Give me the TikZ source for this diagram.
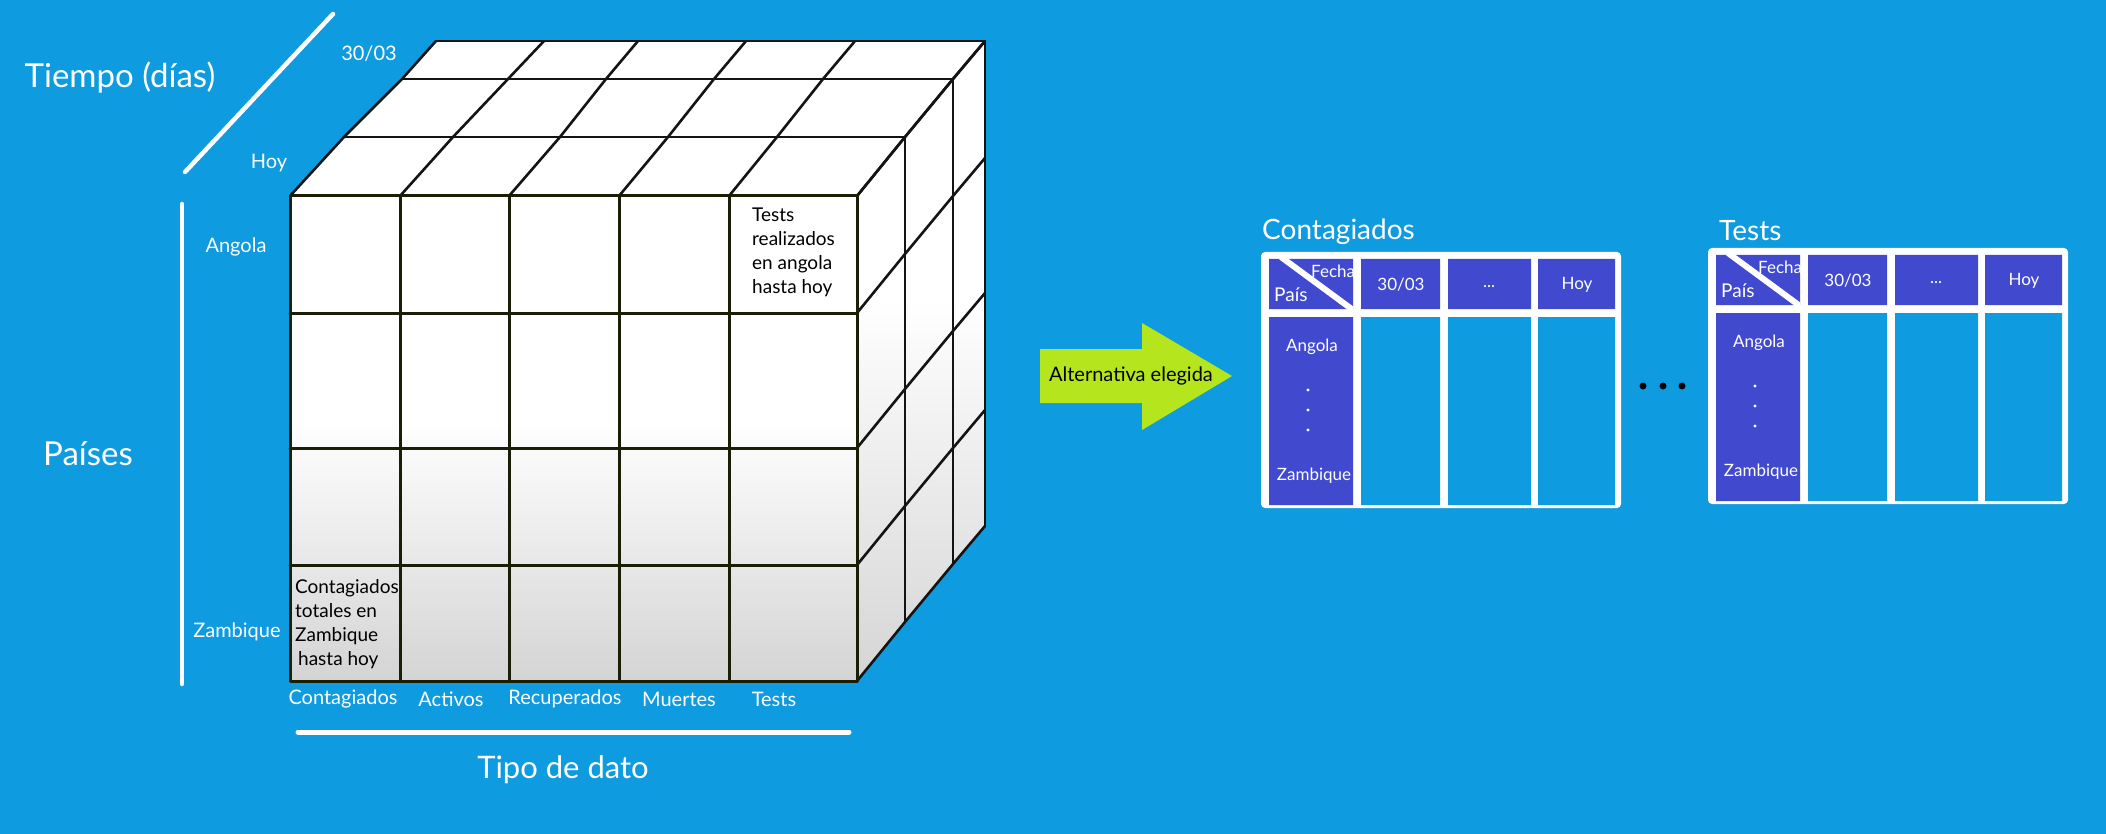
\documentclass[tikz,border=0pt]{standalone}
\usepackage{fontspec}
\setmainfont{Lato}
\definecolor{bgblue}{RGB}{14,155,224}
\definecolor{cellpurple}{RGB}{65,73,206}
\definecolor{arrowgreen}{RGB}{181,230,29}
\definecolor{gridline}{RGB}{26,30,6}
\definecolor{shadegray}{RGB}{212,212,212}
\newcommand\datatable[3]{%
\begin{scope}[shift={(#2,#3)}]
 \fill[white,rounded corners=4pt] (0,0) rectangle (360,256);
 \fill[cellpurple] (8,7) rectangle (92,57) (100,7) rectangle (179,57) (187,7) rectangle (270,57) (277,7) rectangle (354,57) (8,65) rectangle (92,253);
 \fill[bgblue] (100,65) rectangle (179,253) (187,65) rectangle (270,253) (277,65) rectangle (354,253);
 \begin{scope}
  \clip (8,7) rectangle (92,57);
  \draw[white, line width=6pt] (20,5) -- (92,58);
  \node[hdr, anchor=west] (#1fecha) at (50,19) {Fecha};
 \end{scope}
 \node[hdr, anchor=west, font=\fontsize{19}{22}\selectfont] (#1pais) at (13,43) {País};
 \node[hdr] (#1da) at (140,33) {30/03};
 \node[hdr] (#1db) at (228,35) {...};
 \node[hdr] (#1dc) at (316,33) {Hoy};
 \node[hdr] (#1ang) at (51,95) {Angola};
 \foreach \yy in {138,158,178} \fill[white] (47,\yy) circle (1.6);
 \node[hdr] (#1zam) at (53,224) {Zambique};
\end{scope}}
\begin{document}
\begin{tikzpicture}[x=1pt,y=-1pt,
  wlabel/.style={text=white, inner sep=0pt, font=\fontsize{20}{24}\selectfont},
  axistitle/.style={text=white, inner sep=0pt, font=\fontsize{33}{40}\selectfont},
  hdr/.style={text=white, inner sep=0pt, font=\fontsize{17}{20}\selectfont},
  celltext/.style={text=black, inner sep=0pt, align=left, font=\fontsize{19}{24}\selectfont},
  axisline/.style={white, line width=4.5pt, line cap=round},
  topline/.style={black!92, line width=2.6pt, line cap=round, line join=round},
  frontline/.style={gridline, line width=3pt, line cap=round},
]
\fill[bgblue] (0,0) rectangle (2106,834);
\useasboundingbox (0,0) rectangle (2106,834);

% ---------- cube faces ----------
\fill[white] (290,196) -- (436,41) -- (985,41) -- (857,196) -- cycle;
\begin{scope}
 \clip (857,196) -- (985,41) -- (985,526) -- (857,681) -- cycle;
 \fill[white] (850,30) rectangle (990,300);
 \shade[top color=white, bottom color=shadegray] (850,300) rectangle (990,690);
\end{scope}
\fill[white] (290,196) rectangle (857,420);
\shade[top color=white, bottom color=shadegray] (290,420) rectangle (857,681);

% top face lines
\draw[topline] (290,196) -- (857,196);
\draw[topline] (344,137) -- (905,137);
\draw[topline] (402,79) -- (953,79);
\draw[topline] (436,41) -- (985,41);
\foreach \a/\b/\c/\d in {290/344/402/436, 400/453/508/544, 509/560/606/638, 619/668/714/746, 729/777/823/855, 857/905/953/985}
  \draw[topline] (\a,196) -- (\b,137) -- (\c,79) -- (\d,41);
% right face lines
\foreach \xx/\dd in {905/59, 953/117, 985/155}
  \draw[topline] ({\xx},{196-\dd}) -- ({\xx},{681-\dd});
\foreach \yy in {196,313,448,565,681}
  \draw[topline] (857,\yy) -- ({905},{\yy-59}) -- ({953},{\yy-117}) -- ({985},{\yy-155});
% front face grid
\foreach \xx in {400,509,619,729}
  \draw[frontline] (\xx,196) -- (\xx,681);
\foreach \yy in {313,448,565}
  \draw[frontline] (290,\yy) -- (857,\yy);
\draw[frontline, line join=round] (290,196) rectangle (857,681);

% cell texts
\node[celltext, anchor=north west] (celltests) at (752,208) {Tests\\realizados\\en angola\\hasta hoy};
\node[celltext, anchor=north west] (cellcont) at (295,579) {Contagiados\\totales en\\Zambique\\\hspace*{3pt}hasta hoy};

% ---------- axes ----------
\coordinate (tA) at (185,172);
\coordinate (tB) at (333,14);
\draw[axisline] (tA) -- (tB);
\coordinate (pA) at (182,204);
\coordinate (pB) at (182,684);
\draw[axisline] (pA) -- (pB);
\coordinate (dA) at (298,732);
\coordinate (dB) at (849,732);
\draw[axisline, line width=5pt] (dA) -- (dB);

\node[axistitle] (tiempo) at (120,78) {Tiempo (días)};
\node[axistitle] (paises) at (88,454) {Países};
\node[axistitle, font=\fontsize{31}{38}\selectfont] (tipo) at (563,770) {Tipo de dato};

\node[wlabel] (l3003) at (369,54) {30/03};
\node[wlabel] (lhoy) at (269,163) {Hoy};
\node[wlabel] (lang) at (236,247) {Angola};
\node[wlabel] (lzam) at (237,632) {Zambique};

\node[wlabel] (bcont) at (343,699) {Contagiados};
\node[wlabel] (bact) at (451,699) {Activos};
\node[wlabel] (brec) at (565,699) {Recuperados};
\node[wlabel] (bmue) at (679,699) {Muertes};
\node[wlabel] (btes) at (774,699) {Tests};

% ---------- arrow ----------
\fill[arrowgreen] (1040,349) -- (1142,349) -- (1142,323) -- (1232,376) -- (1142,430) -- (1142,403) -- (1040,403) -- cycle;
\node[text=black, inner sep=0pt, font=\fontsize{20}{24}\selectfont] (alt) at (1131,376) {Alternativa elegida};

% ---------- tables ----------
\node[axistitle, anchor=west, font=\fontsize{28}{34}\selectfont] (titlea) at (1262,232) {Contagiados};
\node[axistitle, anchor=west, font=\fontsize{28}{34}\selectfont] (titleb) at (1719,231) {Tests};
\datatable{ta}{1261}{252}
\datatable{tb}{1708}{248}

\foreach \xx in {1643,1663,1682}
  \fill[black] (\xx,386) circle (3.5);
\end{tikzpicture}
\end{document}
